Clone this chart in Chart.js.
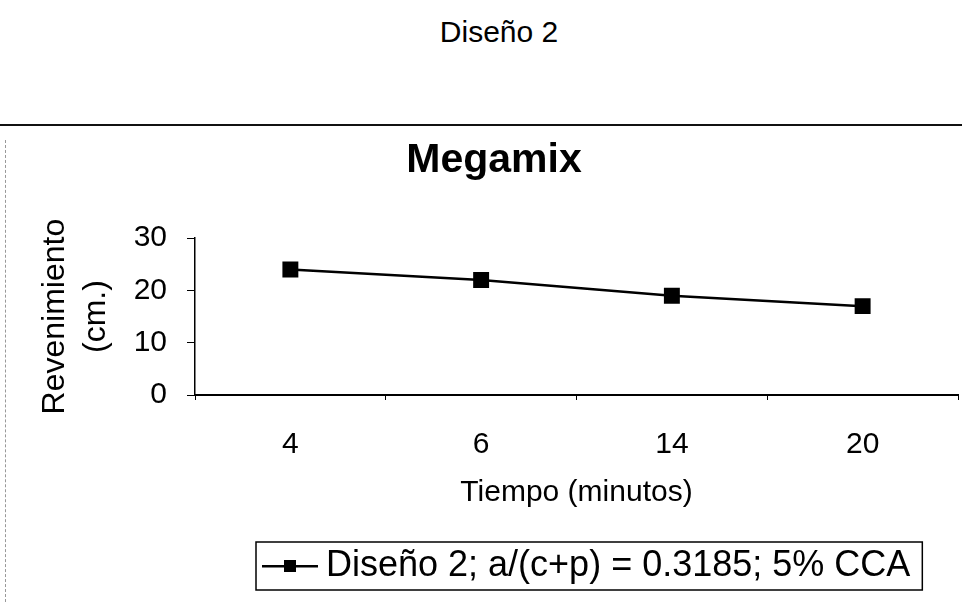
<!DOCTYPE html>
<html>
<head>
<meta charset="utf-8">
<script src="https://cdn.jsdelivr.net/npm/chart.js@4"></script>
<style>
  html, body { margin: 0; padding: 0; background: #fff; }
  body { width: 962px; height: 602px; position: relative; overflow: hidden; font-family: "Liberation Sans", Arial, sans-serif; }
  .page-title { position: absolute; top: 17px; left: 18px; width: 962px; text-align: center; font-size: 30px; line-height: 30px; color: #000; }
  .rule { position: absolute; top: 124px; left: 0; width: 962px; height: 2px; background: #111; }
  .frame { position: absolute; top: 140px; left: 5px; height: 462px; border-left: 1px dashed #999; }
  #chart { position: absolute; top: 0; left: 0; }
</style>
</head>
<body>
<div class="page-title">Diseño 2</div>
<div class="rule"></div>
<div class="frame"></div>
<canvas id="chart" width="962" height="602"></canvas>
<script>
const categories = ["4", "6", "14", "20"];
const revenimiento = [24, 22, 19, 17];
const yTicks = [0, 10, 20, 30];
const seriesLabel = "Diseño 2; a/(c+p) = 0.3185; 5% CCA";

const family = '"Liberation Sans", Arial, sans-serif';

// legend symbol: line with the square marker in the middle
const legendSymbol = document.createElement("canvas");
legendSymbol.width = 56;
legendSymbol.height = 14;
const sctx = legendSymbol.getContext("2d");
sctx.fillStyle = "#000";
sctx.fillRect(0, 6, 56, 2.5);
sctx.fillRect(22, 1, 12, 12);

const legendBox = {
  id: "legendBox",
  afterLayout(chart) {
    // legend sits under the plot, not centred on the page
    const lg = chart.legend;
    const shift = 262 - lg.left;
    lg.left += shift;
    lg.right += shift;
  },
  afterDraw(chart) {
    const hb = chart.legend.legendHitBoxes[0];
    if (!hb) return;
    const ctx = chart.ctx;
    ctx.save();
    ctx.strokeStyle = "#000";
    ctx.lineWidth = 1.5;
    ctx.strokeRect(hb.left - 16, hb.top - 6, hb.width + 28, hb.height + 12);
    ctx.restore();
  }
};

new Chart(document.getElementById("chart"), {
  type: "line",
  data: {
    labels: categories,
    datasets: [
      {
        label: seriesLabel,
        data: revenimiento,
        borderColor: "#000",
        backgroundColor: "#000",
        borderWidth: 2.5,
        pointStyle: "rect",
        pointRadius: 9.5,
        pointBorderColor: "#000",
        pointBackgroundColor: "#000",
        tension: 0,
        fill: false,
      },
    ],
  },
  options: {
    responsive: false,
    animation: false,
    layout: { autoPadding: false, padding: { top: 110, left: 30, right: 4, bottom: 8 } },
    plugins: {
      title: {
        display: true,
        text: "Megamix",
        color: "#000",
        font: { family, size: 41, weight: "bold" },
        padding: { top: 26, bottom: 53 },
      },
      legend: {
        position: "bottom",
        align: "start",
        labels: {
          usePointStyle: true,
          pointStyle: legendSymbol,
          pointStyleWidth: 36,
          padding: 10,
          color: "#000",
          font: { family, size: 36 },
        },
      },
      tooltip: { enabled: false },
    },
    scales: {
      x: {
        offset: true,
        grid: { offset: true, drawOnChartArea: false, drawTicks: true, tickLength: 5, color: "#000" },
        border: { color: "#000", width: 2 },
        ticks: { color: "#000", padding: 27, font: { family, size: 30 } },
        title: {
          display: true,
          text: "Tiempo (minutos)",
          color: "#000",
          font: { family, size: 30 },
          padding: { top: 0, bottom: 27 },
        },
        afterFit(axis) {
          axis.height = 143;
          axis.paddingLeft = 0;
          axis.paddingRight = 0;
        },
      },
      y: {
        min: yTicks[0],
        max: yTicks[yTicks.length - 1],
        afterBuildTicks(axis) { axis.ticks = yTicks.map(v => ({ value: v })); },
        grid: { drawOnChartArea: false, drawTicks: true, tickLength: 8, color: "#000" },
        border: { color: "#000", width: 1.5 },
        ticks: { color: "#000", padding: 20, font: { family, size: 30 } },
        title: {
          display: true,
          text: ["Revenimiento", "(cm.)"],
          color: "#000",
          font: { family, size: 32, lineHeight: 1.3 },
          padding: { top: 4, bottom: 0 },
        },
        afterFit(axis) { axis.width = 165; },
      },
    },
  },
  plugins: [legendBox],
});
</script>
</body>
</html>
